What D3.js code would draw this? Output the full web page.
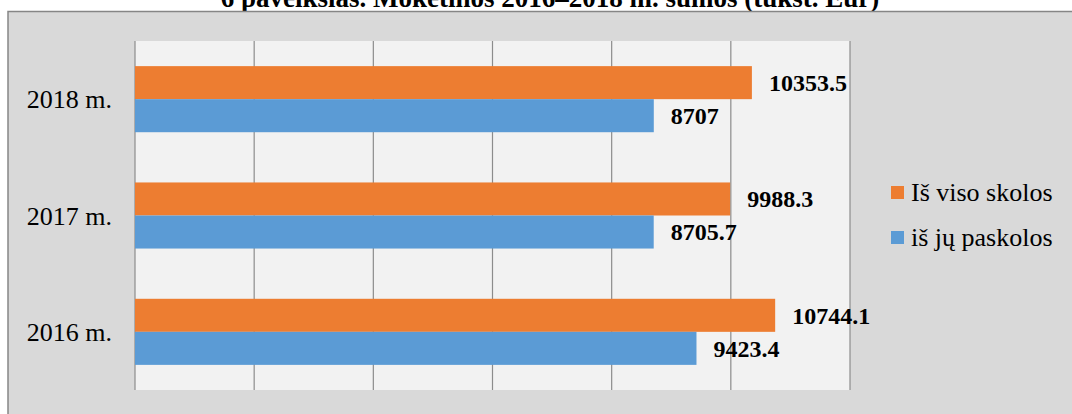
<!DOCTYPE html>
<html>
<head>
<meta charset="utf-8">
<script src="https://cdn.jsdelivr.net/npm/d3@7"></script>
<style>
  body { margin: 0; background: #ffffff; }
  svg { display: block; font-family: "Liberation Serif", "Times New Roman", serif; }
</style>
</head>
<body>
<svg id="vis"></svg>
<script>
const ORANGE = '#ed7d31';
const BLUE = '#5b9bd5';

var years = ['2018 m.', '2017 m.', '2016 m.'];
var seriesNames = ['Iš viso skolos', 'iš jų paskolos'];
var totalDebt = [10353.5, 9988.3, 10744.1];
var loans = [8707, 8705.7, 9423.4];
var xTicks = [0, 2000, 4000, 6000, 8000, 10000, 12000];
var titleText = '6 paveikslas. Mokėtinos 2016–2018 m. sumos (tūkst. Eur)';

var width = 1072, height = 414;
var svg = d3.select('#vis').attr('width', width).attr('height', height);

// title, partly cut by the top edge like in the picture
svg.append('text')
    .attr('x', 550).attr('y', 7)
    .attr('text-anchor', 'middle')
    .attr('font-weight', 'bold')
    .attr('font-size', 27)
    .text(titleText);

// chart area box
svg.append('rect')
    .attr('x', 8).attr('y', 11.5)
    .attr('width', 1080).attr('height', 420)
    .attr('fill', '#d9d9d9')
    .attr('stroke', '#868686').attr('stroke-width', 1.5);

var plot = { left: 135, right: 850, top: 41, bottom: 390 };

svg.append('rect')
    .attr('x', plot.left).attr('y', plot.top)
    .attr('width', plot.right - plot.left).attr('height', plot.bottom - plot.top)
    .attr('fill', '#f2f2f2');

var x = d3.scaleLinear().domain([0, 12000]).range([plot.left, plot.right]);
var y = d3.scaleBand().domain(years).range([plot.top, plot.bottom]).paddingInner(0.432).paddingOuter(0.216);
var ySub = d3.scaleBand().domain([0, 1]).range([0, y.bandwidth()]);

// vertical gridlines
svg.append('g').selectAll('line').data(xTicks).enter().append('line')
    .attr('x1', d => x(d)).attr('x2', d => x(d))
    .attr('y1', plot.top).attr('y2', plot.bottom)
    .attr('stroke', '#8c8c8c').attr('stroke-width', 1.2);

var rows = years.map((yr, i) => ({ year: yr, vals: [totalDebt[i], loans[i]] }));
var colours = [ORANGE, BLUE];

var groups = svg.append('g').selectAll('g').data(rows).enter().append('g')
    .attr('transform', d => 'translate(0,' + y(d.year) + ')');

groups.selectAll('rect').data(d => d.vals).enter().append('rect')
    .attr('x', x(0))
    .attr('y', (d, i) => ySub(i))
    .attr('width', d => x(d) - x(0))
    .attr('height', ySub.bandwidth())
    .attr('fill', (d, i) => colours[i]);

groups.selectAll('text').data(d => d.vals).enter().append('text')
    .attr('x', d => x(d) + 17)
    .attr('y', (d, i) => ySub(i) + ySub.bandwidth() / 2)
    .attr('dy', '0.35em')
    .attr('font-weight', 'bold')
    .attr('font-size', 24)
    .text(d => d);

// category labels
svg.append('g').selectAll('text').data(years).enter().append('text')
    .attr('x', 112)
    .attr('y', d => y(d) + y.bandwidth() / 2)
    .attr('dy', '0.35em')
    .attr('text-anchor', 'end')
    .attr('font-size', 26)
    .text(d => d);

// legend
var legend = svg.append('g').selectAll('g').data(seriesNames).enter().append('g')
    .attr('transform', (d, i) => 'translate(891,' + (186 + i * 45) + ')');
legend.append('rect').attr('width', 13).attr('height', 13).attr('fill', (d, i) => colours[i]);
legend.append('text').attr('x', 20).attr('y', 14.5).attr('font-size', 26).text(d => d);
</script>
</body>
</html>
